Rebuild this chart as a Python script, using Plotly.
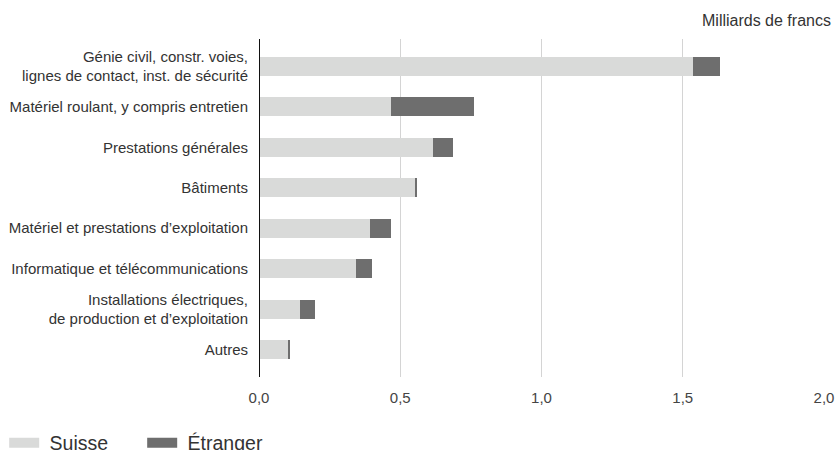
import plotly.graph_objects as go

categories = [
    "Génie civil, constr. voies,<br>lignes de contact, inst. de sécurité",
    "Matériel roulant, y compris entretien",
    "Prestations générales",
    "Bâtiments",
    "Matériel et prestations d’exploitation",
    "Informatique et télécommunications",
    "Installations électriques,<br>de production et d’exploitation",
    "Autres",
]
suisse = [1.535, 0.468, 0.617, 0.553, 0.394, 0.344, 0.145, 0.103]
etranger = [0.096, 0.294, 0.071, 0.004, 0.074, 0.056, 0.054, 0.004]
x_ticks = [0.0, 0.5, 1.0, 1.5, 2.0]

C_SUISSE = "#d9dad9"
C_ETR = "#6e6e6e"
FONT = "Liberation Sans"

fig = go.Figure()
fig.add_trace(go.Bar(y=categories, x=suisse, orientation="h", name="Suisse",
                     marker=dict(color=C_SUISSE, line=dict(width=0)), width=0.47,
                     showlegend=False))
fig.add_trace(go.Bar(y=categories, x=etranger, orientation="h", name="Étranger",
                     marker=dict(color=C_ETR, line=dict(width=0)), width=0.47,
                     showlegend=False))
# legend entries
fig.add_trace(go.Scatter(x=[None], y=[None], mode="lines", name=" Suisse",
                         line=dict(color=C_SUISSE, width=16)))
fig.add_trace(go.Scatter(x=[None], y=[None], mode="lines", name=" Étranger",
                         line=dict(color=C_ETR, width=16)))

fig.update_layout(
    width=837, height=450,
    barmode="stack",
    separators=", ",
    paper_bgcolor="white", plot_bgcolor="white",
    margin=dict(l=259, r=13, t=39, b=73, autoexpand=False),
    font=dict(family=FONT, size=15, color="#333333"),
    xaxis=dict(range=[0, 2.0], tickvals=x_ticks, tickformat=".1f",
               showgrid=True, gridcolor="#d4d4d4", gridwidth=1,
               zeroline=False, showline=False,
               ticks="outside", ticklen=7, tickcolor="rgba(0,0,0,0)",
               tickfont=dict(size=15, color="#444444")),
    yaxis=dict(categoryorder="array", categoryarray=categories,
               range=[7.68, -0.68], showgrid=False, zeroline=False,
               showline=False,
               ticks="outside", ticklen=7, tickcolor="rgba(0,0,0,0)",
               tickfont=dict(size=15, color="#333333")),
    legend=dict(orientation="h", x=-0.451, xanchor="left", y=-0.138, yanchor="top",
                traceorder="normal",
                font=dict(size=19.5, color="#333333"), itemwidth=30,
                entrywidth=93, entrywidthmode="pixels",
                bgcolor="rgba(0,0,0,0)", tracegroupgap=0),
    shapes=[dict(type="line", xref="x", yref="paper", x0=0, x1=0, y0=0, y1=1,
                 line=dict(color="#111111", width=2))],
    annotations=[dict(text="Milliards de francs", xref="paper", yref="paper",
                      x=1.0, y=1.0, xanchor="right", yanchor="middle",
                      xshift=9, yshift=19,
                      showarrow=False, font=dict(size=16, color="#333333"))],
)

fig.write_html(
    "out.html",
    config={"displayModeBar": False},
    post_script="document.body.style.margin='0';"
                "document.body.style.overflow='hidden';"
                "document.documentElement.style.overflow='hidden';",
)
